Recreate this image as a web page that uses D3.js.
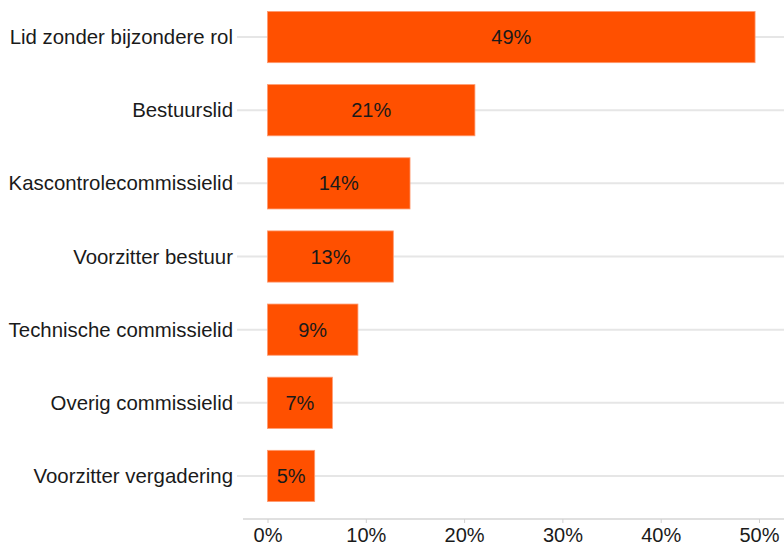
<!DOCTYPE html>
<html><head><meta charset="utf-8">
<script src="https://cdn.jsdelivr.net/npm/d3@7"></script>
<style>body{margin:0;background:#fff}svg{display:block}text{font-family:"Liberation Sans",Arial,sans-serif}</style>
</head><body><svg id="c" width="784" height="546"></svg>
<script>
const categories = ["Lid zonder bijzondere rol","Bestuurslid","Kascontrolecommissielid","Voorzitter bestuur","Technische commissielid","Overig commissielid","Voorzitter vergadering"];
const values = [49.6, 21.1, 14.5, 12.8, 9.2, 6.6, 4.8];
const labels = ["49%","21%","14%","13%","9%","7%","5%"];
const ticks = [0,10,20,30,40,50];

const svg = d3.select("#c");
const x = d3.scaleLinear().domain([0,50]).range([267.5, 759]);
const y = d3.scaleBand().domain(categories).range([0.5, 512.5]).paddingInner(0.3).paddingOuter(0.15);

svg.append("g").selectAll("line").data(categories).join("line")
  .attr("x1",237).attr("x2",784)
  .attr("y1",d=>y(d)+y.bandwidth()/2).attr("y2",d=>y(d)+y.bandwidth()/2)
  .attr("stroke","#e6e6e6").attr("stroke-width",2);

svg.append("g").selectAll("rect").data(values).join("rect")
  .attr("x",x(0)).attr("y",(d,i)=>y(categories[i]))
  .attr("width",d=>x(d)-x(0)).attr("height",y.bandwidth())
  .attr("fill","#ff5000").attr("stroke","#ff9a70").attr("stroke-width",0.8);

svg.append("g").selectAll("text").data(values).join("text")
  .attr("x",d=>(x(0)+x(d))/2).attr("y",(d,i)=>y(categories[i])+y.bandwidth()/2)
  .attr("dy","0.35em").attr("text-anchor","middle").attr("font-size",20).attr("fill","#1a1a1a")
  .text((d,i)=>labels[i]);

svg.append("g").selectAll("text").data(categories).join("text")
  .attr("x",233).attr("y",d=>y(d)+y.bandwidth()/2).attr("dy","0.35em")
  .attr("text-anchor","end").attr("font-size",20.4).attr("fill","#1a1a1a").text(d=>d);

const ax = svg.append("g").attr("transform","translate(0,519)")
  .call(d3.axisBottom(x).tickValues(ticks).tickFormat(d=>d+"%").tickSize(4).tickPadding(5));
ax.select(".domain").remove();
ax.insert("line",":first-child").attr("x1",243).attr("x2",784).attr("stroke","#e0e0e0").attr("stroke-width",2);
ax.selectAll(".tick line").attr("stroke","#d0d0d0");
ax.selectAll(".tick text").attr("font-size",20).attr("fill","#1a1a1a").attr("font-family","'Liberation Sans',Arial,sans-serif");
</script></body></html>
